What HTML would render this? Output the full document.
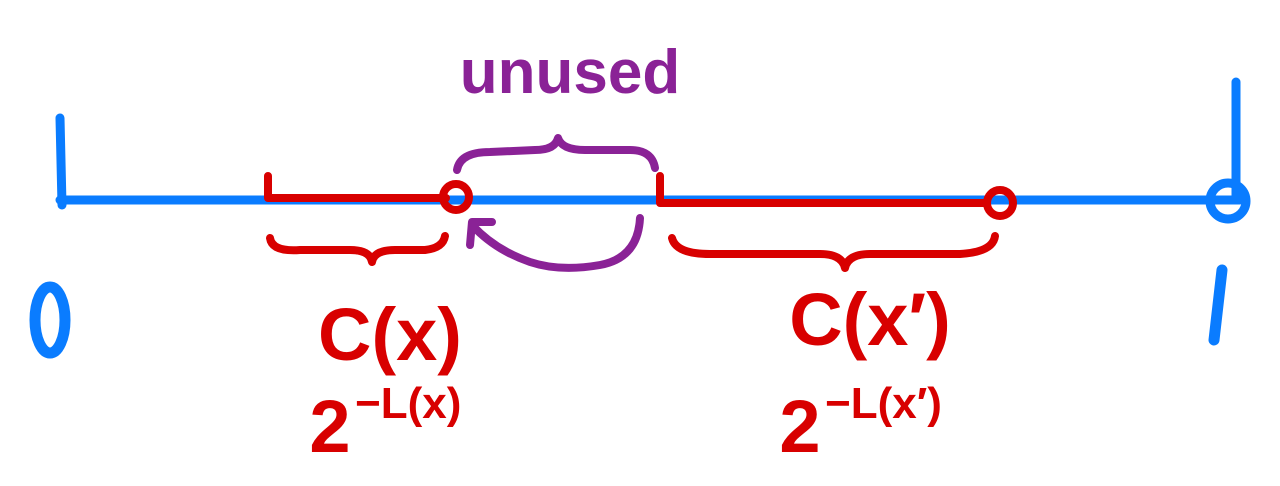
<!DOCTYPE html>
<html><head><meta charset="utf-8"><style>
html,body{margin:0;padding:0;background:#fff;}
svg{display:block}
text{font-family:"Liberation Sans",sans-serif;font-weight:bold}
</style></head><body>
<svg width="1280" height="486" viewBox="0 0 1280 486" xmlns="http://www.w3.org/2000/svg">
<g fill="none" stroke-linecap="round" stroke-linejoin="round">
<g stroke="#0a7cff" stroke-width="9">
<path d="M60 200 L1240 200"/>
<path d="M60 118 L62 205"/>
<path d="M1236 82 L1236 200"/>
<circle cx="1228" cy="201" r="18"/>
<path d="M1222 270 L1214 340" stroke-width="11"/>
<ellipse cx="50" cy="320" rx="15" ry="33" stroke-width="11"/>
</g>
<g stroke="#d80000" stroke-width="8">
<path d="M268 176 L268 198 L446 198"/>
<circle cx="456" cy="197" r="13"/>
<path d="M660 176 L660 203 L986 203"/>
<circle cx="1000" cy="203" r="13"/>
<path d="M270 238 Q272 252 300 250 L350 250 Q370 250 372 262 Q374 250 395 250 L425 250 Q443 248 445 236"/>
<path d="M672 238 Q676 254 710 254 L820 254 Q842 254 845 268 Q848 254 870 254 L960 254 Q993 252 995 236"/>
</g>
<g stroke="#8a2296" stroke-width="8">
<path d="M457 170 Q460 152 490 152 L535 150 Q555 150 558 138 Q562 150 585 150 L630 150 Q652 150 655 168"/>
<path d="M640 218 Q638 258 600 265 Q560 272 530 262 Q495 250 472 225"/>
<path d="M470 245 L472 222 L492 222"/>
</g>
</g>
<text x="570" y="93" fill="#8a2296" font-size="62" text-anchor="middle">unused</text>
<text x="390" y="360" fill="#d80000" font-size="74" text-anchor="middle">C(x)</text>
<text x="330" y="452" fill="#d80000" font-size="74" text-anchor="middle">2</text>
<text x="355" y="418" fill="#d80000" font-size="44">−L(x)</text>
<text x="870" y="345" fill="#d80000" font-size="74" text-anchor="middle">C(x′)</text>
<text x="800" y="452" fill="#d80000" font-size="74" text-anchor="middle">2</text>
<text x="825" y="418" fill="#d80000" font-size="44">−L(x′)</text>
</svg>
</body></html>
